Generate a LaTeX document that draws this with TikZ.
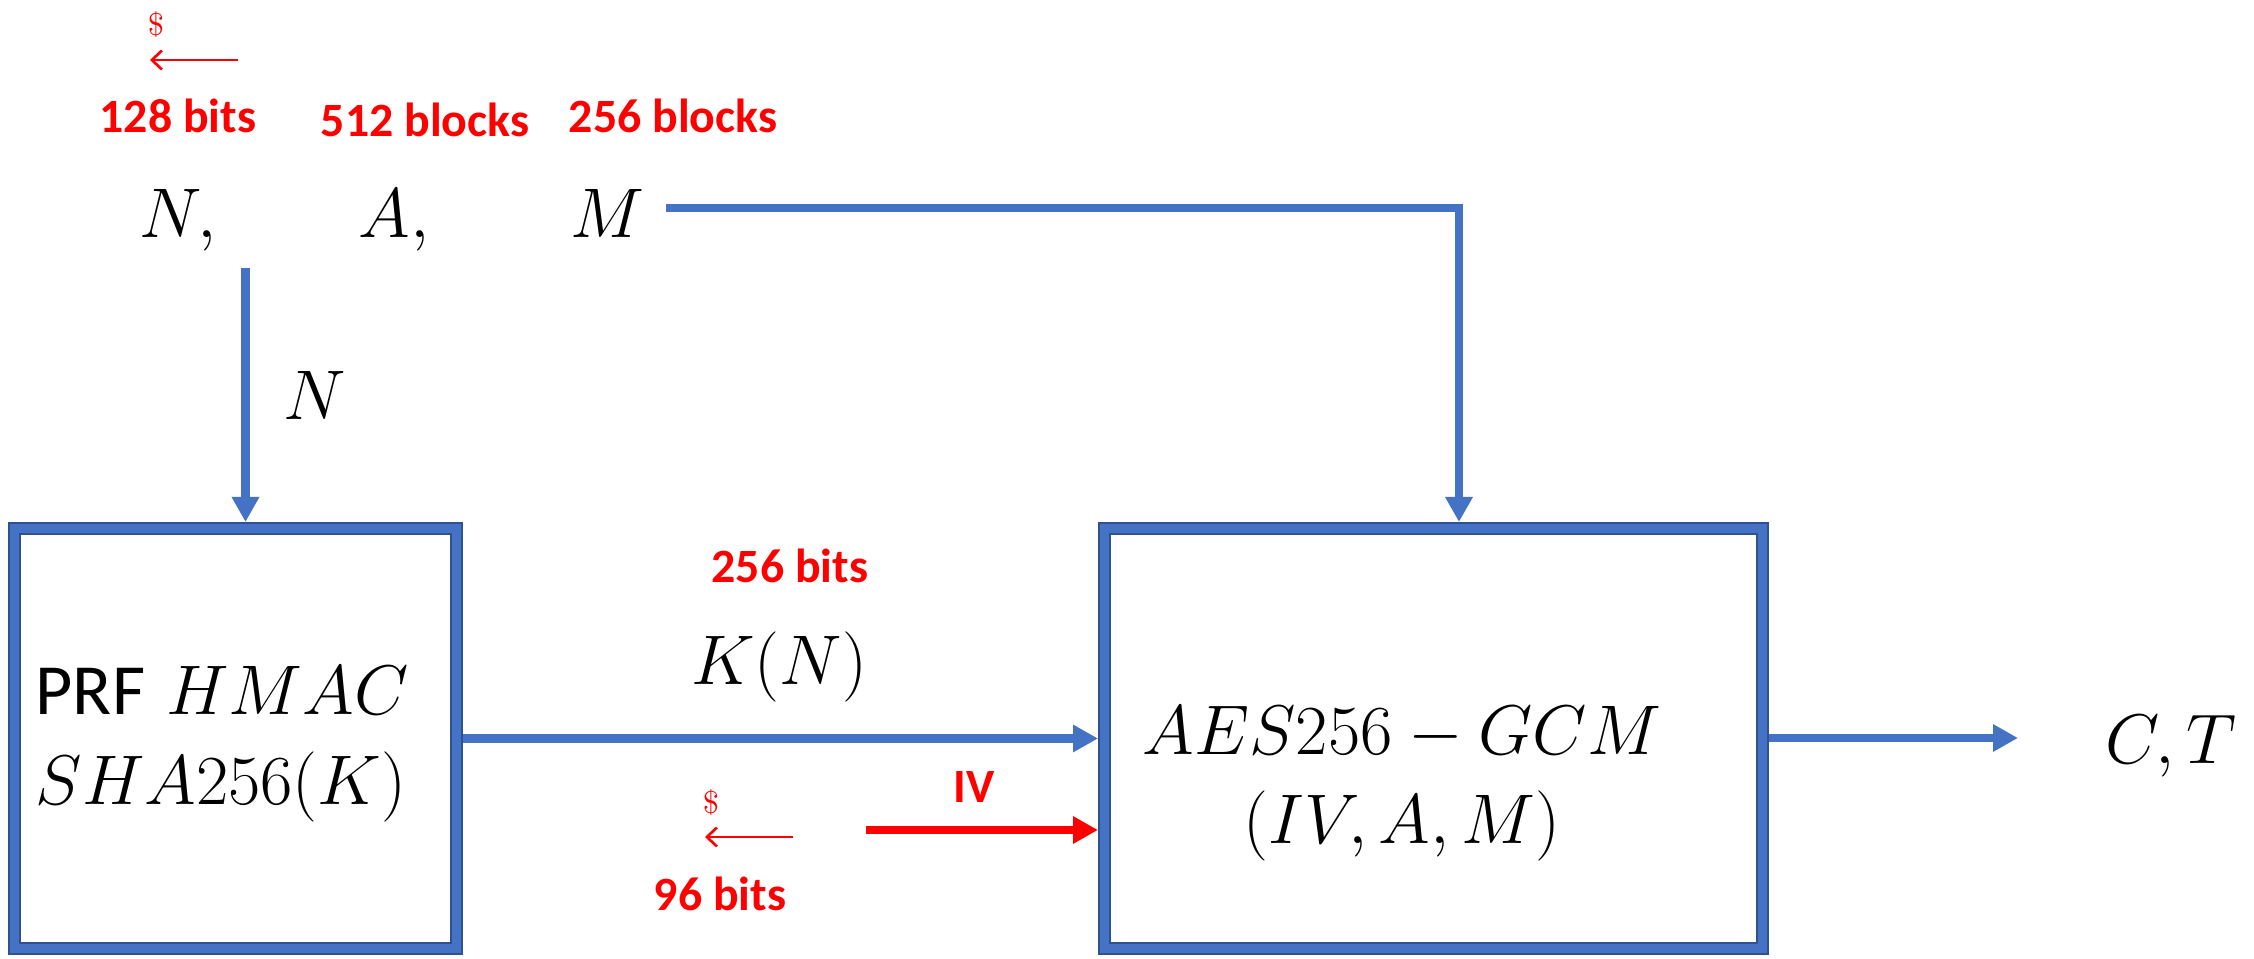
\RequirePackage{fix-cm}
\documentclass[tikz,border=0pt]{standalone}
\usepackage{amsmath}
\usepackage{fontspec}
\usepackage{tikz}
\usetikzlibrary{positioning, arrows.meta}
\newfontfamily\calibfont{Carlito}
\definecolor{flowblue}{HTML}{4472C4}
\definecolor{edgeblue}{HTML}{2F528F}
\definecolor{sizered}{HTML}{FF0000}

\tikzset{
  blockbox/.style={draw=edgeblue, double=flowblue, line width=0.45pt, double distance=2.8pt, outer sep=1.85pt, minimum height=4.2cm, inner sep=0pt},
  flow/.style={draw=flowblue, line width=2.5pt, -{Triangle[length=0.25cm, width=0.26cm]}},
  sizelabel/.style={text=sizered, font=\calibfont\bfseries\fontsize{13.6}{16}\selectfont},
  mathlabel/.style={anchor=base, font=\fontsize{20}{24}\selectfont},
  dollar/.style={text=sizered, font=\fontsize{9}{10}\selectfont, inner sep=0pt},
  sample/.style={draw=sizered, line width=0.75pt, -{Straight Barb[length=0.1cm, width=0.19cm]}}
}

\begin{document}
\begin{tikzpicture}
  \useasboundingbox (0,0) rectangle (22.54,9.58);

  % Inputs and their sizes
  \node[dollar] (dol1) at (1.56,9.33) {\$};
  \coordinate (rnd1a) at (2.38,8.98);
  \coordinate (rnd1b) at (1.50,8.98);
  \draw[sample] (rnd1a) -- (rnd1b);
  \node[sizelabel] (bits128) at (1.78,8.42) {128 bits};
  \node[sizelabel] (blk512) at (4.25,8.38) {512 blocks};
  \node[sizelabel] (blk256) at (6.73,8.42) {256 blocks};
  \node[mathlabel] (nonce) at (1.78,7.20) {$N,$};
  \node[mathlabel] (assoc) at (3.94,7.20) {$A,$};
  \node[mathlabel] (msg) at (6.07,7.20) {$M$};

  % Key derivation block
  \node[blockbox, minimum width=4.42cm] (prf) at (2.355,2.195) {};
  \node[mathlabel, anchor=base west, inner sep=0pt] (prfline1) at (0.35,2.43)
    {{\calibfont\fontsize{20.5}{24}\selectfont PRF} $HMAC$};
  \node[mathlabel, anchor=base west, inner sep=0pt] (prfline2) at (0.35,1.53) {$SHA256(K)$};

  % Encryption block
  \node[blockbox, minimum width=6.58cm] (aes) at (14.335,2.195) {};
  \node[mathlabel] (aesline1) at (14.02,2.03) {$AES256-GCM$};
  \node[mathlabel] (aesline2) at (14.02,1.15) {$(IV,A,M)$};

  % N into the PRF
  \coordinate (nstart) at (2.455,6.90);
  \draw[flow] (nstart) -- (nstart |- prf.north);
  \node[mathlabel] (nlab) at (3.15,5.38) {$N$};

  % M into AES
  \coordinate (mstart) at (6.66,7.50);
  \coordinate (mturn) at (14.59,7.50);
  \draw[flow] (mstart) -- (mturn) -- (mturn |- aes.north);

  % Derived key
  \draw[flow] (prf.east) -- (aes.west);
  \node[sizelabel] (bits256) at (7.90,3.92) {256 bits};
  \node[mathlabel] (keylab) at (7.79,2.73) {$K(N)$};

  % Random IV
  \node[dollar] (dol2) at (7.11,1.55) {\$};
  \coordinate (rnd2a) at (7.93,1.21);
  \coordinate (rnd2b) at (7.05,1.21);
  \draw[sample] (rnd2a) -- (rnd2b);
  \node[sizelabel] (bits96) at (7.20,0.64) {96 bits};
  \node[sizelabel] (ivlab) at (9.74,1.71) {IV};
  \coordinate (ivstart) at (8.66,1.28);
  \draw[flow, draw=sizered] (ivstart) -- (ivstart -| aes.west);

  % Output
  \coordinate (outend) at (20.18,2.20);
  \draw[flow] (aes.east |- outend) -- (outend);
  \node[mathlabel] (ctlab) at (21.71,1.95) {$C,T$};
\end{tikzpicture}
\end{document}
